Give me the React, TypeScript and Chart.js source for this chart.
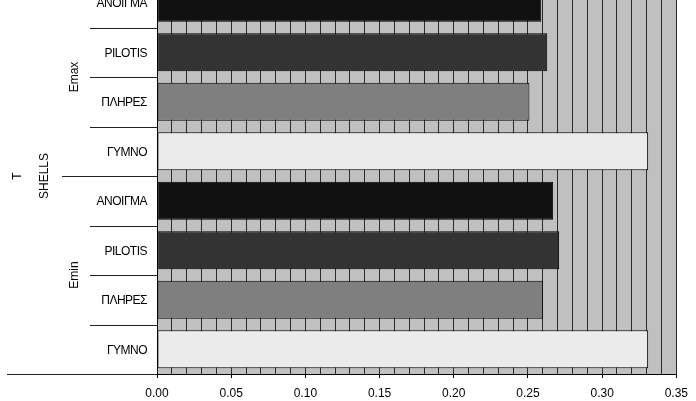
import React, { useEffect, useRef } from 'react';
import { Chart, registerables } from 'chart.js';

Chart.register(...registerables);

// ---- data ----
const groups = ['Emax', 'Emin'];
const subcategories = ['ΑΝΟΙΓΜΑ', 'PILOTIS', 'ΠΛΗΡΕΣ', 'ΓΥΜΝΟ'];
const emaxValues = [0.259, 0.263, 0.251, 0.331];
const eminValues = [0.267, 0.271, 0.26, 0.331];
const outerLabel = 'SHELLS';
const topLabel = 'T';
const xMin = 0;
const xMax = 0.35;
const gridStep = 0.01;
const labelStep = 0.05;

const barColors = ['#111111', '#333333', '#7f7f7f', '#ebebeb'];

const labels = groups.flatMap(() => subcategories);
const values = [...emaxValues, ...eminValues];
const colors = groups.flatMap(() => barColors);

const FONT = '"Liberation Sans", Arial, sans-serif';

const decorPlugin = {
  id: 'decor',
  beforeDraw(chart: any) {
    const { ctx, chartArea: a } = chart;
    ctx.save();
    ctx.fillStyle = '#c0c0c0';
    ctx.fillRect(a.left, a.top, a.right - a.left, a.bottom - a.top);
    ctx.restore();
  },
  afterDraw(chart: any) {
    const { ctx, chartArea: a } = chart;
    const ys = chart.scales.y;
    const n = labels.length;
    const per = subcategories.length;
    const pix = (i: number) => ys.getPixelForValue(i);
    const boundary = (b: number) =>
      b === 0 ? a.top : b === n ? a.bottom : (pix(b - 1) + pix(b)) / 2;

    ctx.save();
    // level-1 labels
    ctx.fillStyle = '#000';
    ctx.font = `12px ${FONT}`;
    ctx.textAlign = 'right';
    ctx.textBaseline = 'middle';
    try {
      (ctx as any).letterSpacing = '-0.5px';
    } catch (e) {}
    for (let i = 0; i < n; i++) {
      ctx.fillText(labels[i], a.left - 10, pix(i) + 1);
    }
    try {
      (ctx as any).letterSpacing = '0px';
    } catch (e) {}
    // separators
    ctx.strokeStyle = '#222';
    ctx.lineWidth = 1;
    for (let b = 0; b <= n; b++) {
      const yy = Math.round(boundary(b)) + 0.5;
      const x0 = b === 0 || b === n ? 7 : b % per === 0 ? 62 : 90;
      ctx.beginPath();
      ctx.moveTo(x0, yy);
      ctx.lineTo(a.left, yy);
      ctx.stroke();
    }
    // group labels (rotated)
    const rot = (text: string, x: number, y: number, size: number) => {
      ctx.save();
      ctx.translate(x, y);
      ctx.rotate(-Math.PI / 2);
      ctx.font = `${size}px ${FONT}`;
      ctx.textAlign = 'center';
      ctx.textBaseline = 'middle';
      ctx.fillText(text, 0, 0);
      ctx.restore();
    };
    groups.forEach((g, gi) => {
      const y0 = boundary(gi * per);
      const y1 = boundary((gi + 1) * per);
      rot(g, 75, (y0 + y1) / 2, 12);
    });
    const mid = (a.top + a.bottom) / 2;
    rot(outerLabel, 45, mid, 12);
    rot(topLabel, 18, mid, 12);
    ctx.restore();
  },
};

const isLabelTick = (v: number) => Math.round(v * 100) % Math.round(labelStep * 100) === 0;

export default function App() {
  const ref = useRef<HTMLCanvasElement | null>(null);

  useEffect(() => {
    if (!ref.current) return;
    const chart = new Chart(ref.current, {
      type: 'bar',
      data: {
        labels,
        datasets: [
          {
            data: values,
            backgroundColor: colors,
            borderColor: '#000',
            borderWidth: 1,
            borderSkipped: false,
            categoryPercentage: 1,
            barPercentage: 0.77,
          },
        ],
      },
      options: {
        indexAxis: 'y',
        responsive: false,
        animation: false,
        devicePixelRatio: 1,
        layout: { padding: { left: 157, right: 19, top: 0, bottom: 0 } },
        plugins: {
          legend: { display: false },
          tooltip: { enabled: false },
          title: { display: false },
        },
        scales: {
          y: { display: false },
          x: {
            min: xMin,
            max: xMax,
            afterFit(scale: any) {
              scale.height = 27;
            },
            afterBuildTicks(scale: any) {
              const t = [];
              const count = Math.round((xMax - xMin) / gridStep);
              for (let i = 0; i <= count; i++) t.push({ value: +(xMin + i * gridStep).toFixed(4) });
              scale.ticks = t;
            },
            ticks: {
              autoSkip: false,
              maxRotation: 0,
              minRotation: 0,
              padding: 8,
              color: '#000',
              font: { family: FONT, size: 12 },
              callback: (v: any) => (isLabelTick(Number(v)) ? Number(v).toFixed(2) : ''),
            },
            grid: {
              color: (c: any) => (c.tick && c.tick.value === 0 ? '#000' : '#2a2a2a'),
              lineWidth: 1,
              tickLength: 4,
              tickColor: (c: any) => (c.tick && isLabelTick(c.tick.value) ? '#000' : 'rgba(0,0,0,0)'),
            },
            border: { display: true, color: '#000', width: 1 },
          },
        },
      },
      plugins: [decorPlugin],
    });
    return () => chart.destroy();
  }, []);

  return (
    <div style={{ position: 'absolute', top: -22, left: 0, width: 696, height: 423 }}>
      <canvas ref={ref} width={696} height={423} style={{ width: 696, height: 423 }} />
    </div>
  );
}
